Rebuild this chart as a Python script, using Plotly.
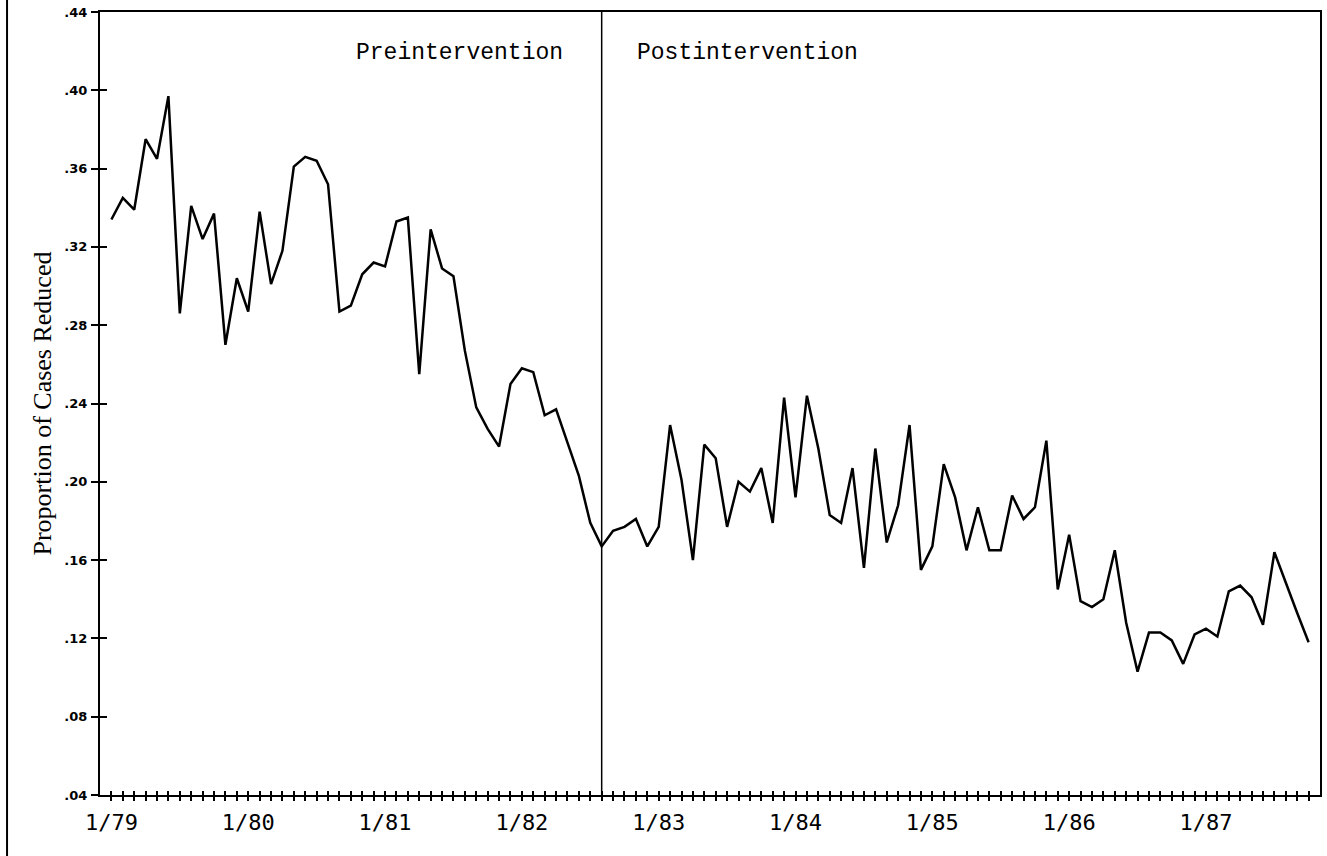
import plotly.graph_objects as go

# ---- data (monthly, 1/79 .. 10/87) ----
start_year = 1979
proportion_reduced = [
    0.334, 0.345, 0.339, 0.375, 0.365, 0.397, 0.286, 0.341, 0.324, 0.337,
    0.270, 0.304, 0.287, 0.338, 0.301, 0.318, 0.361, 0.366, 0.364, 0.352,
    0.287, 0.290, 0.306, 0.312, 0.310, 0.333, 0.335, 0.255, 0.329, 0.309,
    0.305, 0.267, 0.238, 0.227, 0.218, 0.250, 0.258, 0.256, 0.234, 0.237,
    0.220, 0.203, 0.179, 0.167, 0.175, 0.177, 0.181, 0.167, 0.177, 0.229,
    0.201, 0.160, 0.219, 0.212, 0.177, 0.200, 0.195, 0.207, 0.179, 0.243,
    0.192, 0.244, 0.217, 0.183, 0.179, 0.207, 0.156, 0.217, 0.169, 0.188,
    0.229, 0.155, 0.167, 0.209, 0.192, 0.165, 0.187, 0.165, 0.165, 0.193,
    0.181, 0.187, 0.221, 0.145, 0.173, 0.139, 0.136, 0.140, 0.165, 0.128,
    0.103, 0.123, 0.123, 0.119, 0.107, 0.122, 0.125, 0.121, 0.144, 0.147,
    0.141, 0.127, 0.164, 0.148, 0.133, 0.118,
]
intervention_month = 43  # 8/82
y_ticks = [0.04, 0.08, 0.12, 0.16, 0.20, 0.24, 0.28, 0.32, 0.36, 0.40, 0.44]
y_ticklabels = [".04", ".08", ".12", ".16", ".20", ".24", ".28", ".32", ".36", ".40", ".44"]
phase_labels = ["Preintervention", "Postintervention"]
y_title = "Proportion of Cases Reduced"

# ---- derived ----
n = len(proportion_reduced)
months = list(range(n))
x_ticktext = [f"1/{(start_year + m // 12) % 100:02d}" if m % 12 == 0 else "" for m in months]

fig = go.Figure()
fig.add_trace(go.Scatter(
    x=months, y=proportion_reduced, mode="lines",
    line=dict(color="black", width=2.5), showlegend=False, hoverinfo="skip",
))
# helper (empty) trace so the overlay axes with inward ticks are drawn
fig.add_trace(go.Scatter(x=[], y=[], xaxis="x2", yaxis="y2", showlegend=False))

xr = [-1, 106]
yr = [0.04, 0.44]

fig.update_layout(
    width=1327, height=856, autosize=False,
    margin=dict(l=100, r=7, t=12, b=61, autoexpand=False),
    paper_bgcolor="white", plot_bgcolor="white",
    xaxis=dict(
        range=xr, tickmode="array", tickvals=months, ticktext=x_ticktext,
        ticks="outside", ticklen=4, tickwidth=1.5, tickcolor="black",
        showline=True, linewidth=2, linecolor="black", mirror=True,
        showgrid=False, zeroline=False, automargin=False,
        tickfont=dict(family="DejaVu Sans Mono", size=22, color="black"),
        ticklabelstandoff=3, ticklabeloverflow="allow",
    ),
    xaxis2=dict(
        range=xr, overlaying="x", anchor="y", side="bottom",
        tickmode="array", tickvals=months, ticks="inside", ticklen=4,
        tickwidth=1.5, tickcolor="black", showticklabels=False,
        showline=False, showgrid=False, zeroline=False, automargin=False,
    ),
    yaxis=dict(
        range=yr, tickmode="array", tickvals=y_ticks, ticktext=y_ticklabels,
        ticks="outside", ticklen=7, tickwidth=1.5, tickcolor="black",
        showline=True, linewidth=2, linecolor="black", mirror=True,
        showgrid=False, zeroline=False, automargin=False,
        tickfont=dict(family="DejaVu Sans", size=13, color="black", weight="bold"),
        ticklabelstandoff=1, ticklabeloverflow="allow",
    ),
    yaxis2=dict(
        range=yr, overlaying="y", anchor="x", side="left",
        tickmode="array", tickvals=y_ticks[:-1], ticks="inside", ticklen=7,
        tickwidth=1.5, tickcolor="black", showticklabels=False,
        showline=False, showgrid=False, zeroline=False, automargin=False,
    ),
)

# intervention line
fig.add_shape(type="line", xref="x", yref="paper",
              x0=intervention_month, x1=intervention_month, y0=0, y1=1,
              line=dict(color="black", width=1.5))
# page-edge rule at the far left
fig.add_shape(type="line", xref="paper", yref="paper",
              x0=-0.0762, x1=-0.0762, y0=-0.08, y1=1.016,
              line=dict(color="black", width=2))

fig.add_annotation(text=phase_labels[0], xref="paper", yref="paper",
                   x=0.2947, y=0.9476, xanchor="center", yanchor="middle",
                   showarrow=False,
                   font=dict(family="Liberation Mono", size=23, color="black"))
fig.add_annotation(text=phase_labels[1], xref="paper", yref="paper",
                   x=0.5307, y=0.9476, xanchor="center", yanchor="middle",
                   showarrow=False,
                   font=dict(family="Liberation Mono", size=23, color="black"))
fig.add_annotation(text=y_title, xref="paper", yref="paper",
                   x=-0.0475, y=0.5, xanchor="center", yanchor="middle",
                   textangle=-90, showarrow=False,
                   font=dict(family="Liberation Serif", size=26, color="black"))

# remove the browser's default 8px body margin so the figure fills the window
fig.write_html("out.html", config={"displayModeBar": False},
               post_script="document.body.style.margin='0';")
